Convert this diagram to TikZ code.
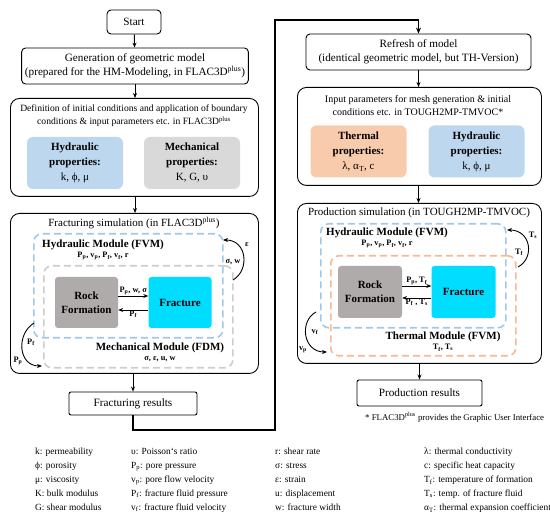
\documentclass[tikz,border=0pt]{standalone}
\usepackage{fontspec}
\setmainfont{Liberation Serif}
\usetikzlibrary{arrows.meta, positioning, calc}
\definecolor{hydblue}{RGB}{189, 215, 238}
\definecolor{mechgray}{RGB}{217, 217, 217}
\definecolor{thermorange}{RGB}{248, 203, 173}
\definecolor{rockgray}{RGB}{175, 171, 171}
\definecolor{fraccyan}{RGB}{0, 221, 255}
\definecolor{dashblue}{RGB}{160, 200, 232}
\definecolor{dashgray}{RGB}{205, 205, 205}
\definecolor{dashorange}{RGB}{246, 185, 145}
\newcommand{\sbs}[1]{\textsubscript{#1}}
\newcommand{\flacplus}{FLAC3D\textsuperscript{plus}}

\begin{document}
\begin{tikzpicture}[x=1pt, y=-1pt,
  procbox/.style={draw, line width=0.9pt, rounded corners=4pt, align=center, font=\fontsize{11.2}{14}\selectfont},
  framebox/.style={draw, line width=0.9pt, rounded corners=9pt, anchor=north west, inner sep=0pt},
  propbox/.style={rounded corners=6pt, minimum width=96, minimum height=52, align=center, font=\fontsize{11}{15}\selectfont},
  blockbox/.style={rounded corners=3pt, minimum width=63, minimum height=51, align=center, font=\bfseries\fontsize{11}{14}\selectfont},
  modbox/.style={dash pattern=on 7pt off 4pt, line width=1.6pt, rounded corners=8pt, anchor=north west, inner sep=0pt},
  modtitle/.style={align=center, font=\fontsize{11}{11}\selectfont, inner sep=0pt},
  plaintext/.style={align=center, font=\fontsize{9.6}{13}\selectfont, inner sep=0pt},
  flowarr/.style={-{Stealth[length=5pt, width=4pt]}, line width=0.9pt},
  looparr/.style={-{Stealth[length=6pt, width=5pt]}, line width=1.8pt},
  cycarr/.style={-{Stealth[length=5pt, width=4pt]}, line width=0.9pt},
  varlbl/.style={font=\bfseries\fontsize{8.3}{9}\selectfont, inner sep=0.5pt},
  legtext/.style={anchor=north west, align=left, font=\fontsize{9.4}{14}\selectfont, inner sep=0pt}
]
  \useasboundingbox (0,0) rectangle (550,524);

  % left column: FLAC3D part
  \node[procbox, minimum width=54, minimum height=24] (start) at (134,22) {Start};
  \node[procbox, minimum width=226, minimum height=36] (geom) at (135,66)
    {Generation of geometric model\\(prepared for the HM-Modeling, in \flacplus)};
  \node[framebox, minimum width=248, minimum height=98] (defin) at (10,98) {};
  \node[plaintext] (defintxt) at (134,116)
    {Definition of initial conditions and application of boundary\\conditions \& input parameters etc. in \flacplus};
  \node[propbox, fill=hydblue] (hydL) at (75,163) {\textbf{Hydraulic}\\\textbf{properties:}\\k, ϕ, μ};
  \node[propbox, fill=mechgray] (mech) at (192,163) {\textbf{Mechanical}\\\textbf{properties:}\\K, G, υ};

  \node[framebox, minimum width=248, minimum height=160] (fracsim) at (10,213) {};
  \node[modtitle] (fracsimtxt) at (134,223) {Fracturing simulation (in \flacplus)};
  \node[modbox, draw=dashblue, minimum width=189, minimum height=104] (hydmodL) at (33,233) {};
  \node[modbox, draw=dashgray, minimum width=189, minimum height=102] (mechmod) at (43,265) {};
  \node[modtitle, anchor=north] (hydmodLtxt) at (103,240)
    {\textbf{Hydraulic Module (FVM)}\\[-1pt]{\bfseries\fontsize{8.3}{9}\selectfont P\sbs{p}, v\sbs{p}, P\sbs{f}, v\sbs{f}, r}};
  \node[modtitle, anchor=north] (mechmodtxt) at (160,343)
    {\textbf{Mechanical Module (FDM)}\\[-1pt]{\bfseries\fontsize{8.3}{9}\selectfont σ, ε, u, w}};
  \node[blockbox, fill=rockgray] (rockL) at (86.5,302.5) {Rock\\Formation};
  \node[blockbox, fill=fraccyan] (fracL) at (180,302.5) {Fracture};
  \draw[flowarr] ([yshift=6.5pt]rockL.east) -- ([yshift=6.5pt]fracL.west)
    node[varlbl, midway, above] (lblL1) {P\sbs{p}, w, σ};
  \draw[flowarr] ([yshift=-7.5pt]fracL.west) -- ([yshift=-7.5pt]rockL.east)
    node[varlbl, midway, below] (lblL2) {P\sbs{f}};

  \coordinate (cycLa) at (233,280);
  \coordinate (cycLb) at (223,240);
  \draw[cycarr] (cycLa) .. controls (250,270) and (247,240) .. (cycLb);
  \node[varlbl] (epsL) at (247,245) {ε};
  \node[varlbl] (sigL) at (233,262) {σ, w};
  \coordinate (cycLc) at (34,323);
  \coordinate (cycLd) at (42,366);
  \draw[cycarr] (cycLc) .. controls (16,334) and (18,366) .. (cycLd);
  \node[varlbl] (pfL) at (31,342) {P\sbs{f}};
  \node[varlbl] (ppL) at (18,361) {P\sbs{p}};

  \node[procbox, rounded corners=2pt, minimum width=128, minimum height=23] (fracres) at (133,403.5) {Fracturing results};

  % right column: TOUGH2MP part
  \node[procbox, minimum width=225, minimum height=36] (refresh) at (418.5,52)
    {Refresh of model\\(identical geometric model, but TH-Version)};
  \node[framebox, minimum width=244, minimum height=98] (input) at (297,87) {};
  \node[plaintext, font=\fontsize{10}{13}\selectfont] (inputtxt) at (418,106)
    {Input parameters for mesh generation \& initial\\conditions etc. in TOUGH2MP-TMVOC*};
  \node[propbox, fill=thermorange] (therm) at (358.5,151.5) {\textbf{Thermal}\\\textbf{properties:}\\λ, α\sbs{T}, c};
  \node[propbox, fill=hydblue] (hydR) at (476.5,151.5) {\textbf{Hydraulic}\\\textbf{properties:}\\k, ϕ, μ};

  \node[framebox, minimum width=244, minimum height=160] (prodsim) at (297,203) {};
  \node[modtitle] (prodsimtxt) at (419,213) {Production simulation (in TOUGH2MP-TMVOC)};
  \node[modbox, draw=dashblue, minimum width=185, minimum height=104] (hydmodR) at (320,223) {};
  \node[modbox, draw=dashorange, minimum width=185, minimum height=100] (thermmod) at (330,255) {};
  \node[modtitle, anchor=north] (hydmodRtxt) at (387,228)
    {\textbf{Hydraulic Module (FVM)}\\[-1pt]{\bfseries\fontsize{8.3}{9}\selectfont P\sbs{p}, v\sbs{p}, P\sbs{f}, v\sbs{f}, r}};
  \node[modtitle, anchor=north] (thermmodtxt) at (443,332)
    {\textbf{Thermal Module (FVM)}\\[-1pt]{\bfseries\fontsize{8.3}{9}\selectfont T\sbs{f}, T\sbs{s}}};
  \node[blockbox, fill=rockgray, minimum width=64, minimum height=52] (rockR) at (370,292) {Rock\\Formation};
  \node[blockbox, fill=fraccyan, minimum width=64, minimum height=52] (fracR) at (463.5,292) {Fracture};
  \draw[flowarr] ([yshift=6pt]rockR.east) -- ([yshift=6pt]fracR.west)
    node[varlbl, midway, above] (lblR1) {P\sbs{p}, T\sbs{f}};
  \draw[flowarr] ([yshift=-6pt]fracR.west) -- ([yshift=-6pt]rockR.east)
    node[varlbl, midway, below] (lblR2) {P\sbs{f} , T\sbs{s}};

  \coordinate (cycRa) at (518,267);
  \coordinate (cycRb) at (507,230);
  \draw[cycarr] (cycRa) .. controls (535,258) and (531,230) .. (cycRb);
  \node[varlbl] (tsR) at (533,235) {T\sbs{s}};
  \node[varlbl] (tfR) at (519,252) {T\sbs{f}};
  \coordinate (cycRc) at (316,312);
  \coordinate (cycRd) at (327,352);
  \draw[cycarr] (cycRc) .. controls (299,321) and (303,352) .. (cycRd);
  \node[varlbl] (vfR) at (315,332) {v\sbs{f}};
  \node[varlbl] (vpR) at (303,350) {v\sbs{p}};

  \node[procbox, rounded corners=2pt, minimum width=125, minimum height=26] (prodres) at (419.5,393) {Production results};
  \node[anchor=west, inner sep=0pt, font=\fontsize{8.8}{10}\selectfont] (footnote) at (365,417)
    {* \flacplus\ provides the Graphic User Interface};

  % connectors
  \draw[flowarr] (start) -- (geom);
  \draw[flowarr] (geom) -- (defin.north -| geom);
  \draw[flowarr] (defin.south -| geom) -- (fracsim.north -| geom);
  \draw[flowarr] (fracsim.south -| fracres) -- (fracres);
  \coordinate (loopA) at (275,430);
  \coordinate (loopB) at (275,20);
  \draw[looparr] (fracres.south) |- (loopA) -- (loopB) -| (refresh.north);
  \draw[flowarr] (refresh) -- (input.north -| refresh);
  \draw[flowarr] (input.south -| refresh) -- (prodsim.north -| refresh);
  \draw[flowarr] (prodsim.south -| prodres) -- (prodres);

  % legend
  \node[legtext] (legA) at (35,448) {k: permeability\\ϕ: porosity\\μ: viscosity\\K: bulk modulus\\G: shear modulus};
  \node[legtext] (legB) at (131,448) {υ: Poisson`s ratio\\P\sbs{p}: pore pressure\\v\sbs{p}: pore flow velocity\\P\sbs{f}: fracture fluid pressure\\v\sbs{f}: fracture fluid velocity};
  \node[legtext] (legC) at (275,448) {r: shear rate\\σ: stress\\ε: strain\\u: displacement\\w: fracture width};
  \node[legtext] (legD) at (424,448) {λ: thermal conductivity\\c: specific heat capacity\\T\sbs{f}: temperature of formation\\T\sbs{s}: temp. of fracture fluid\\α\sbs{T}: thermal expansion coefficient};
\end{tikzpicture}
\end{document}
